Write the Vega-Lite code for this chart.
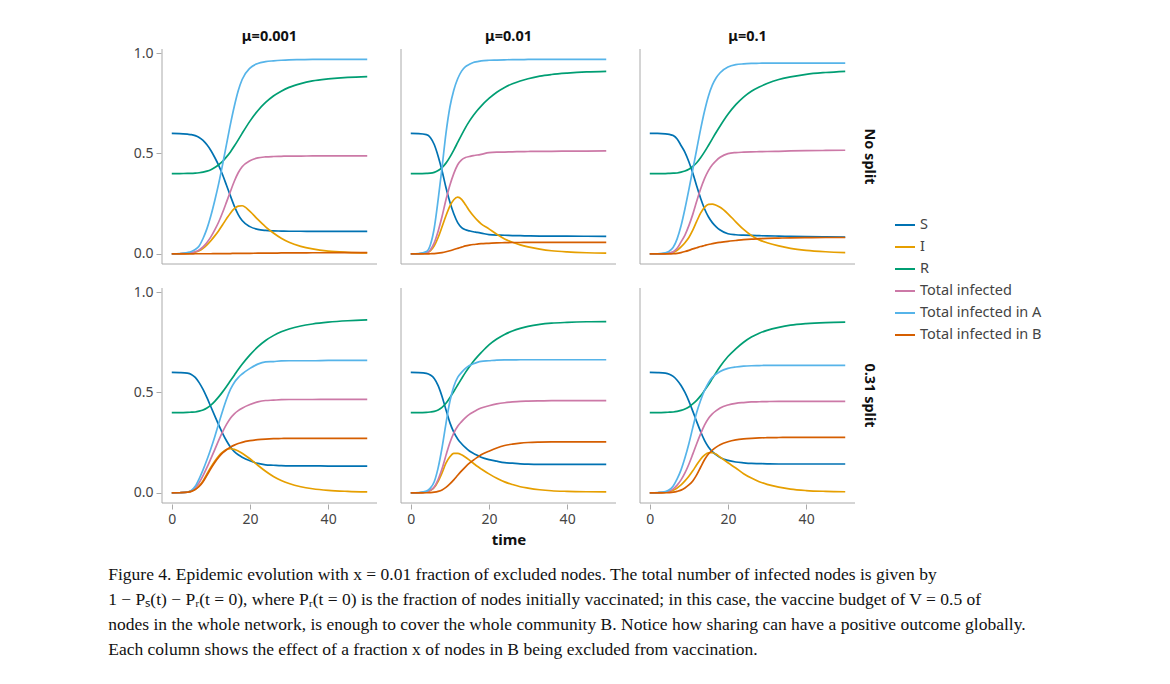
{
  "$schema": "https://vega.github.io/schema/vega-lite/v6.json",
  "padding": {"left": 108, "top": 28, "right": 5, "bottom": 5},
  "background": "white",
  "title": {
    "text": [
      "Figure 4. Epidemic evolution with x = 0.01 fraction of excluded nodes. The total number of infected nodes is given by",
      "1 − Pₛ(t) − Pᵣ(t = 0), where Pᵣ(t = 0) is the fraction of nodes initially vaccinated; in this case, the vaccine budget of V = 0.5 of",
      "nodes in the whole network, is enough to cover the whole community B. Notice how sharing can have a positive outcome globally.",
      "Each column shows the effect of a fraction x of nodes in B being excluded from vaccination."
    ],
    "orient": "bottom",
    "anchor": "start",
    "font": "Liberation Serif",
    "fontSize": 17.5,
    "fontWeight": "normal",
    "color": "#111",
    "lineHeight": 25,
    "offset": 18,
    "dx": -25
  },
  "data": {
    "values": [
      {"m":"μ=0.001","p":"No split","t":0,"S":0.600,"I":0.000,"R":0.400,"T":0.000,"A":0.000,"B":0.000},
      {"m":"μ=0.001","p":"No split","t":2,"S":0.599,"I":0.001,"R":0.400,"T":0.001,"A":0.002,"B":0.000},
      {"m":"μ=0.001","p":"No split","t":4,"S":0.596,"I":0.003,"R":0.401,"T":0.004,"A":0.007,"B":0.000},
      {"m":"μ=0.001","p":"No split","t":5,"S":0.594,"I":0.005,"R":0.401,"T":0.006,"A":0.012,"B":0.000},
      {"m":"μ=0.001","p":"No split","t":6,"S":0.589,"I":0.009,"R":0.402,"T":0.011,"A":0.022,"B":0.001},
      {"m":"μ=0.001","p":"No split","t":7,"S":0.580,"I":0.016,"R":0.404,"T":0.020,"A":0.040,"B":0.001},
      {"m":"μ=0.001","p":"No split","t":8,"S":0.565,"I":0.028,"R":0.407,"T":0.035,"A":0.077,"B":0.001},
      {"m":"μ=0.001","p":"No split","t":9,"S":0.543,"I":0.045,"R":0.412,"T":0.057,"A":0.126,"B":0.001},
      {"m":"μ=0.001","p":"No split","t":10,"S":0.515,"I":0.066,"R":0.419,"T":0.085,"A":0.190,"B":0.001},
      {"m":"μ=0.001","p":"No split","t":11,"S":0.480,"I":0.090,"R":0.430,"T":0.120,"A":0.266,"B":0.002},
      {"m":"μ=0.001","p":"No split","t":12,"S":0.441,"I":0.116,"R":0.444,"T":0.159,"A":0.350,"B":0.002},
      {"m":"μ=0.001","p":"No split","t":13,"S":0.394,"I":0.145,"R":0.461,"T":0.206,"A":0.445,"B":0.002},
      {"m":"μ=0.001","p":"No split","t":14,"S":0.342,"I":0.175,"R":0.483,"T":0.258,"A":0.545,"B":0.002},
      {"m":"μ=0.001","p":"No split","t":15,"S":0.289,"I":0.203,"R":0.508,"T":0.311,"A":0.645,"B":0.002},
      {"m":"μ=0.001","p":"No split","t":16,"S":0.238,"I":0.225,"R":0.537,"T":0.362,"A":0.735,"B":0.003},
      {"m":"μ=0.001","p":"No split","t":17,"S":0.196,"I":0.238,"R":0.568,"T":0.404,"A":0.812,"B":0.003},
      {"m":"μ=0.001","p":"No split","t":18,"S":0.166,"I":0.240,"R":0.600,"T":0.434,"A":0.868,"B":0.003},
      {"m":"μ=0.001","p":"No split","t":20,"S":0.136,"I":0.212,"R":0.661,"T":0.464,"A":0.925,"B":0.003},
      {"m":"μ=0.001","p":"No split","t":22,"S":0.122,"I":0.172,"R":0.713,"T":0.478,"A":0.948,"B":0.004},
      {"m":"μ=0.001","p":"No split","t":24,"S":0.117,"I":0.135,"R":0.754,"T":0.483,"A":0.957,"B":0.004},
      {"m":"μ=0.001","p":"No split","t":26,"S":0.115,"I":0.104,"R":0.786,"T":0.485,"A":0.961,"B":0.004},
      {"m":"μ=0.001","p":"No split","t":28,"S":0.114,"I":0.078,"R":0.810,"T":0.486,"A":0.964,"B":0.005},
      {"m":"μ=0.001","p":"No split","t":30,"S":0.113,"I":0.058,"R":0.829,"T":0.487,"A":0.966,"B":0.005},
      {"m":"μ=0.001","p":"No split","t":33,"S":0.113,"I":0.038,"R":0.848,"T":0.487,"A":0.967,"B":0.005},
      {"m":"μ=0.001","p":"No split","t":36,"S":0.112,"I":0.025,"R":0.861,"T":0.488,"A":0.968,"B":0.006},
      {"m":"μ=0.001","p":"No split","t":40,"S":0.112,"I":0.014,"R":0.871,"T":0.488,"A":0.968,"B":0.006},
      {"m":"μ=0.001","p":"No split","t":45,"S":0.112,"I":0.008,"R":0.879,"T":0.488,"A":0.968,"B":0.007},
      {"m":"μ=0.001","p":"No split","t":50,"S":0.112,"I":0.005,"R":0.883,"T":0.488,"A":0.968,"B":0.007},

      {"m":"μ=0.01","p":"No split","t":0,"S":0.600,"I":0.000,"R":0.400,"T":0.000,"A":0.000,"B":0.000},
      {"m":"μ=0.01","p":"No split","t":2,"S":0.599,"I":0.001,"R":0.400,"T":0.001,"A":0.002,"B":0.000},
      {"m":"μ=0.01","p":"No split","t":4,"S":0.594,"I":0.005,"R":0.401,"T":0.006,"A":0.012,"B":0.000},
      {"m":"μ=0.01","p":"No split","t":5,"S":0.580,"I":0.015,"R":0.402,"T":0.020,"A":0.045,"B":0.001},
      {"m":"μ=0.01","p":"No split","t":6,"S":0.5445,"I":0.040,"R":0.406,"T":0.0555,"A":0.128,"B":0.002},
      {"m":"μ=0.01","p":"No split","t":7,"S":0.4865,"I":0.082,"R":0.415,"T":0.1135,"A":0.270,"B":0.004},
      {"m":"μ=0.01","p":"No split","t":8,"S":0.414,"I":0.135,"R":0.430,"T":0.186,"A":0.430,"B":0.007},
      {"m":"μ=0.01","p":"No split","t":9,"S":0.3305,"I":0.190,"R":0.452,"T":0.2695,"A":0.600,"B":0.011},
      {"m":"μ=0.01","p":"No split","t":10,"S":0.258,"I":0.238,"R":0.482,"T":0.342,"A":0.730,"B":0.016},
      {"m":"μ=0.01","p":"No split","t":11,"S":0.200,"I":0.270,"R":0.517,"T":0.400,"A":0.815,"B":0.022},
      {"m":"μ=0.01","p":"No split","t":12,"S":0.156,"I":0.283,"R":0.555,"T":0.444,"A":0.872,"B":0.028},
      {"m":"μ=0.01","p":"No split","t":13,"S":0.1315,"I":0.272,"R":0.593,"T":0.4685,"A":0.910,"B":0.034},
      {"m":"μ=0.01","p":"No split","t":14,"S":0.120,"I":0.245,"R":0.629,"T":0.480,"A":0.932,"B":0.040},
      {"m":"μ=0.01","p":"No split","t":15,"S":0.115,"I":0.215,"R":0.661,"T":0.485,"A":0.944,"B":0.044},
      {"m":"μ=0.01","p":"No split","t":16,"S":0.1105,"I":0.190,"R":0.689,"T":0.4895,"A":0.953,"B":0.047},
      {"m":"μ=0.01","p":"No split","t":17,"S":0.1075,"I":0.168,"R":0.714,"T":0.4925,"A":0.957,"B":0.049},
      {"m":"μ=0.01","p":"No split","t":18,"S":0.104,"I":0.150,"R":0.736,"T":0.496,"A":0.961,"B":0.051},
      {"m":"μ=0.01","p":"No split","t":20,"S":0.096,"I":0.125,"R":0.774,"T":0.504,"A":0.964,"B":0.053},
      {"m":"μ=0.01","p":"No split","t":22,"S":0.0935,"I":0.098,"R":0.805,"T":0.5065,"A":0.965,"B":0.055},
      {"m":"μ=0.01","p":"No split","t":24,"S":0.093,"I":0.075,"R":0.829,"T":0.507,"A":0.966,"B":0.056},
      {"m":"μ=0.01","p":"No split","t":26,"S":0.0915,"I":0.058,"R":0.847,"T":0.5085,"A":0.967,"B":0.057},
      {"m":"μ=0.01","p":"No split","t":28,"S":0.091,"I":0.045,"R":0.861,"T":0.509,"A":0.967,"B":0.057},
      {"m":"μ=0.01","p":"No split","t":30,"S":0.090,"I":0.035,"R":0.872,"T":0.510,"A":0.968,"B":0.058},
      {"m":"μ=0.01","p":"No split","t":33,"S":0.089,"I":0.024,"R":0.885,"T":0.511,"A":0.968,"B":0.058},
      {"m":"μ=0.01","p":"No split","t":36,"S":0.089,"I":0.016,"R":0.893,"T":0.511,"A":0.968,"B":0.058},
      {"m":"μ=0.01","p":"No split","t":40,"S":0.0885,"I":0.010,"R":0.900,"T":0.5115,"A":0.968,"B":0.058},
      {"m":"μ=0.01","p":"No split","t":45,"S":0.088,"I":0.006,"R":0.906,"T":0.512,"A":0.968,"B":0.058},
      {"m":"μ=0.01","p":"No split","t":50,"S":0.087,"I":0.004,"R":0.909,"T":0.513,"A":0.968,"B":0.058},

      {"m":"μ=0.1","p":"No split","t":0,"S":0.600,"I":0.000,"R":0.400,"T":0.000,"A":0.000,"B":0.000},
      {"m":"μ=0.1","p":"No split","t":2,"S":0.600,"I":0.000,"R":0.400,"T":0.000,"A":0.001,"B":0.000},
      {"m":"μ=0.1","p":"No split","t":4,"S":0.598,"I":0.002,"R":0.400,"T":0.002,"A":0.006,"B":0.000},
      {"m":"μ=0.1","p":"No split","t":5,"S":0.595,"I":0.004,"R":0.401,"T":0.005,"A":0.014,"B":0.000},
      {"m":"μ=0.1","p":"No split","t":6,"S":0.589,"I":0.008,"R":0.402,"T":0.011,"A":0.033,"B":0.001},
      {"m":"μ=0.1","p":"No split","t":7,"S":0.572,"I":0.018,"R":0.403,"T":0.028,"A":0.075,"B":0.003},
      {"m":"μ=0.1","p":"No split","t":8,"S":0.540,"I":0.035,"R":0.407,"T":0.060,"A":0.140,"B":0.007},
      {"m":"μ=0.1","p":"No split","t":9,"S":0.506,"I":0.056,"R":0.413,"T":0.094,"A":0.225,"B":0.012},
      {"m":"μ=0.1","p":"No split","t":10,"S":0.459,"I":0.082,"R":0.422,"T":0.141,"A":0.320,"B":0.018},
      {"m":"μ=0.1","p":"No split","t":11,"S":0.403,"I":0.118,"R":0.436,"T":0.197,"A":0.420,"B":0.025},
      {"m":"μ=0.1","p":"No split","t":12,"S":0.338,"I":0.162,"R":0.454,"T":0.262,"A":0.520,"B":0.031},
      {"m":"μ=0.1","p":"No split","t":13,"S":0.277,"I":0.203,"R":0.479,"T":0.323,"A":0.620,"B":0.037},
      {"m":"μ=0.1","p":"No split","t":14,"S":0.225,"I":0.232,"R":0.508,"T":0.375,"A":0.710,"B":0.042},
      {"m":"μ=0.1","p":"No split","t":15,"S":0.185,"I":0.247,"R":0.540,"T":0.415,"A":0.785,"B":0.047},
      {"m":"μ=0.1","p":"No split","t":16,"S":0.156,"I":0.248,"R":0.573,"T":0.444,"A":0.840,"B":0.051},
      {"m":"μ=0.1","p":"No split","t":17,"S":0.135,"I":0.242,"R":0.606,"T":0.465,"A":0.877,"B":0.055},
      {"m":"μ=0.1","p":"No split","t":18,"S":0.119,"I":0.232,"R":0.637,"T":0.481,"A":0.902,"B":0.058},
      {"m":"μ=0.1","p":"No split","t":20,"S":0.1005,"I":0.200,"R":0.695,"T":0.4995,"A":0.930,"B":0.063},
      {"m":"μ=0.1","p":"No split","t":22,"S":0.0955,"I":0.160,"R":0.743,"T":0.5045,"A":0.942,"B":0.067},
      {"m":"μ=0.1","p":"No split","t":24,"S":0.0935,"I":0.122,"R":0.781,"T":0.5065,"A":0.946,"B":0.071},
      {"m":"μ=0.1","p":"No split","t":26,"S":0.092,"I":0.092,"R":0.810,"T":0.508,"A":0.948,"B":0.074},
      {"m":"μ=0.1","p":"No split","t":28,"S":0.091,"I":0.070,"R":0.831,"T":0.509,"A":0.949,"B":0.076},
      {"m":"μ=0.1","p":"No split","t":30,"S":0.090,"I":0.056,"R":0.848,"T":0.510,"A":0.950,"B":0.078},
      {"m":"μ=0.1","p":"No split","t":33,"S":0.089,"I":0.040,"R":0.868,"T":0.511,"A":0.950,"B":0.079},
      {"m":"μ=0.1","p":"No split","t":36,"S":0.0875,"I":0.028,"R":0.881,"T":0.5125,"A":0.950,"B":0.080},
      {"m":"μ=0.1","p":"No split","t":40,"S":0.086,"I":0.018,"R":0.894,"T":0.514,"A":0.950,"B":0.081},
      {"m":"μ=0.1","p":"No split","t":45,"S":0.085,"I":0.011,"R":0.903,"T":0.515,"A":0.950,"B":0.082},
      {"m":"μ=0.1","p":"No split","t":50,"S":0.084,"I":0.007,"R":0.909,"T":0.516,"A":0.950,"B":0.082},

      {"m":"μ=0.001","p":"0.31 split","t":0,"S":0.600,"I":0.000,"R":0.400,"T":0.000,"A":0.000,"B":0.000},
      {"m":"μ=0.001","p":"0.31 split","t":2,"S":0.599,"I":0.001,"R":0.400,"T":0.001,"A":0.001,"B":0.001},
      {"m":"μ=0.001","p":"0.31 split","t":4,"S":0.596,"I":0.004,"R":0.401,"T":0.004,"A":0.004,"B":0.004},
      {"m":"μ=0.001","p":"0.31 split","t":5,"S":0.590,"I":0.009,"R":0.402,"T":0.010,"A":0.012,"B":0.008},
      {"m":"μ=0.001","p":"0.31 split","t":6,"S":0.575,"I":0.018,"R":0.403,"T":0.025,"A":0.033,"B":0.017},
      {"m":"μ=0.001","p":"0.31 split","t":7,"S":0.549,"I":0.035,"R":0.407,"T":0.051,"A":0.070,"B":0.032},
      {"m":"μ=0.001","p":"0.31 split","t":8,"S":0.515,"I":0.060,"R":0.413,"T":0.086,"A":0.115,"B":0.056},
      {"m":"μ=0.001","p":"0.31 split","t":9,"S":0.474,"I":0.095,"R":0.423,"T":0.127,"A":0.165,"B":0.088},
      {"m":"μ=0.001","p":"0.31 split","t":10,"S":0.429,"I":0.128,"R":0.437,"T":0.171,"A":0.220,"B":0.122},
      {"m":"μ=0.001","p":"0.31 split","t":11,"S":0.384,"I":0.158,"R":0.456,"T":0.216,"A":0.280,"B":0.152},
      {"m":"μ=0.001","p":"0.31 split","t":12,"S":0.339,"I":0.184,"R":0.478,"T":0.262,"A":0.345,"B":0.178},
      {"m":"μ=0.001","p":"0.31 split","t":13,"S":0.297,"I":0.203,"R":0.503,"T":0.304,"A":0.408,"B":0.199},
      {"m":"μ=0.001","p":"0.31 split","t":14,"S":0.260,"I":0.216,"R":0.530,"T":0.341,"A":0.466,"B":0.215},
      {"m":"μ=0.001","p":"0.31 split","t":15,"S":0.229,"I":0.220,"R":0.558,"T":0.372,"A":0.515,"B":0.228},
      {"m":"μ=0.001","p":"0.31 split","t":16,"S":0.206,"I":0.217,"R":0.586,"T":0.394,"A":0.550,"B":0.238},
      {"m":"μ=0.001","p":"0.31 split","t":17,"S":0.190,"I":0.209,"R":0.614,"T":0.410,"A":0.574,"B":0.246},
      {"m":"μ=0.001","p":"0.31 split","t":18,"S":0.178,"I":0.198,"R":0.640,"T":0.422,"A":0.592,"B":0.252},
      {"m":"μ=0.001","p":"0.31 split","t":20,"S":0.160,"I":0.170,"R":0.687,"T":0.440,"A":0.620,"B":0.260},
      {"m":"μ=0.001","p":"0.31 split","t":22,"S":0.147,"I":0.138,"R":0.727,"T":0.453,"A":0.641,"B":0.265},
      {"m":"μ=0.001","p":"0.31 split","t":24,"S":0.140,"I":0.108,"R":0.759,"T":0.460,"A":0.652,"B":0.268},
      {"m":"μ=0.001","p":"0.31 split","t":26,"S":0.138,"I":0.082,"R":0.783,"T":0.462,"A":0.654,"B":0.270},
      {"m":"μ=0.001","p":"0.31 split","t":28,"S":0.136,"I":0.062,"R":0.802,"T":0.464,"A":0.657,"B":0.271},
      {"m":"μ=0.001","p":"0.31 split","t":30,"S":0.135,"I":0.047,"R":0.816,"T":0.465,"A":0.658,"B":0.272},
      {"m":"μ=0.001","p":"0.31 split","t":33,"S":0.135,"I":0.031,"R":0.831,"T":0.465,"A":0.658,"B":0.272},
      {"m":"μ=0.001","p":"0.31 split","t":36,"S":0.135,"I":0.021,"R":0.841,"T":0.465,"A":0.658,"B":0.272},
      {"m":"μ=0.001","p":"0.31 split","t":40,"S":0.134,"I":0.013,"R":0.850,"T":0.466,"A":0.660,"B":0.272},
      {"m":"μ=0.001","p":"0.31 split","t":45,"S":0.134,"I":0.008,"R":0.857,"T":0.466,"A":0.660,"B":0.272},
      {"m":"μ=0.001","p":"0.31 split","t":50,"S":0.134,"I":0.005,"R":0.861,"T":0.466,"A":0.660,"B":0.272},

      {"m":"μ=0.01","p":"0.31 split","t":0,"S":0.600,"I":0.000,"R":0.400,"T":0.000,"A":0.000,"B":0.000},
      {"m":"μ=0.01","p":"0.31 split","t":2,"S":0.599,"I":0.001,"R":0.400,"T":0.001,"A":0.002,"B":0.000},
      {"m":"μ=0.01","p":"0.31 split","t":4,"S":0.595,"I":0.005,"R":0.401,"T":0.005,"A":0.009,"B":0.001},
      {"m":"μ=0.01","p":"0.31 split","t":5,"S":0.587,"I":0.012,"R":0.403,"T":0.013,"A":0.024,"B":0.002},
      {"m":"μ=0.01","p":"0.31 split","t":6,"S":0.570,"I":0.027,"R":0.406,"T":0.030,"A":0.056,"B":0.004},
      {"m":"μ=0.01","p":"0.31 split","t":7,"S":0.534,"I":0.058,"R":0.413,"T":0.067,"A":0.125,"B":0.008},
      {"m":"μ=0.01","p":"0.31 split","t":8,"S":0.480,"I":0.100,"R":0.426,"T":0.120,"A":0.225,"B":0.015},
      {"m":"μ=0.01","p":"0.31 split","t":9,"S":0.414,"I":0.148,"R":0.446,"T":0.187,"A":0.345,"B":0.028},
      {"m":"μ=0.01","p":"0.31 split","t":10,"S":0.350,"I":0.180,"R":0.474,"T":0.250,"A":0.455,"B":0.045},
      {"m":"μ=0.01","p":"0.31 split","t":11,"S":0.303,"I":0.197,"R":0.505,"T":0.298,"A":0.530,"B":0.065},
      {"m":"μ=0.01","p":"0.31 split","t":12,"S":0.269,"I":0.197,"R":0.537,"T":0.332,"A":0.575,"B":0.088},
      {"m":"μ=0.01","p":"0.31 split","t":13,"S":0.245,"I":0.190,"R":0.569,"T":0.355,"A":0.600,"B":0.110},
      {"m":"μ=0.01","p":"0.31 split","t":14,"S":0.225,"I":0.178,"R":0.600,"T":0.375,"A":0.620,"B":0.130},
      {"m":"μ=0.01","p":"0.31 split","t":15,"S":0.209,"I":0.163,"R":0.628,"T":0.391,"A":0.634,"B":0.148},
      {"m":"μ=0.01","p":"0.31 split","t":16,"S":0.197,"I":0.148,"R":0.654,"T":0.403,"A":0.643,"B":0.163},
      {"m":"μ=0.01","p":"0.31 split","t":17,"S":0.187,"I":0.133,"R":0.677,"T":0.414,"A":0.650,"B":0.177},
      {"m":"μ=0.01","p":"0.31 split","t":18,"S":0.178,"I":0.120,"R":0.698,"T":0.423,"A":0.655,"B":0.190},
      {"m":"μ=0.01","p":"0.31 split","t":20,"S":0.166,"I":0.095,"R":0.737,"T":0.434,"A":0.658,"B":0.208},
      {"m":"μ=0.01","p":"0.31 split","t":22,"S":0.158,"I":0.073,"R":0.766,"T":0.443,"A":0.661,"B":0.224},
      {"m":"μ=0.01","p":"0.31 split","t":24,"S":0.151,"I":0.055,"R":0.789,"T":0.449,"A":0.662,"B":0.236},
      {"m":"μ=0.01","p":"0.31 split","t":26,"S":0.148,"I":0.042,"R":0.806,"T":0.453,"A":0.662,"B":0.243},
      {"m":"μ=0.01","p":"0.31 split","t":28,"S":0.145,"I":0.031,"R":0.819,"T":0.456,"A":0.663,"B":0.248},
      {"m":"μ=0.01","p":"0.31 split","t":30,"S":0.143,"I":0.024,"R":0.829,"T":0.457,"A":0.663,"B":0.251},
      {"m":"μ=0.01","p":"0.31 split","t":33,"S":0.142,"I":0.016,"R":0.839,"T":0.458,"A":0.663,"B":0.253},
      {"m":"μ=0.01","p":"0.31 split","t":36,"S":0.142,"I":0.011,"R":0.845,"T":0.459,"A":0.663,"B":0.254},
      {"m":"μ=0.01","p":"0.31 split","t":40,"S":0.142,"I":0.008,"R":0.849,"T":0.459,"A":0.663,"B":0.254},
      {"m":"μ=0.01","p":"0.31 split","t":45,"S":0.142,"I":0.006,"R":0.852,"T":0.459,"A":0.663,"B":0.254},
      {"m":"μ=0.01","p":"0.31 split","t":50,"S":0.142,"I":0.005,"R":0.853,"T":0.459,"A":0.663,"B":0.254},

      {"m":"μ=0.1","p":"0.31 split","t":0,"S":0.600,"I":0.000,"R":0.400,"T":0.000,"A":0.000,"B":0.000},
      {"m":"μ=0.1","p":"0.31 split","t":2,"S":0.599,"I":0.001,"R":0.400,"T":0.001,"A":0.002,"B":0.000},
      {"m":"μ=0.1","p":"0.31 split","t":4,"S":0.596,"I":0.003,"R":0.401,"T":0.004,"A":0.007,"B":0.001},
      {"m":"μ=0.1","p":"0.31 split","t":5,"S":0.591,"I":0.007,"R":0.402,"T":0.009,"A":0.016,"B":0.002},
      {"m":"μ=0.1","p":"0.31 split","t":6,"S":0.580,"I":0.014,"R":0.403,"T":0.020,"A":0.035,"B":0.004},
      {"m":"μ=0.1","p":"0.31 split","t":7,"S":0.561,"I":0.025,"R":0.406,"T":0.039,"A":0.070,"B":0.008},
      {"m":"μ=0.1","p":"0.31 split","t":8,"S":0.535,"I":0.040,"R":0.411,"T":0.065,"A":0.115,"B":0.014},
      {"m":"μ=0.1","p":"0.31 split","t":9,"S":0.500,"I":0.060,"R":0.418,"T":0.100,"A":0.175,"B":0.025},
      {"m":"μ=0.1","p":"0.31 split","t":10,"S":0.457,"I":0.083,"R":0.428,"T":0.143,"A":0.245,"B":0.040},
      {"m":"μ=0.1","p":"0.31 split","t":11,"S":0.407,"I":0.110,"R":0.443,"T":0.193,"A":0.325,"B":0.060},
      {"m":"μ=0.1","p":"0.31 split","t":12,"S":0.355,"I":0.140,"R":0.461,"T":0.245,"A":0.400,"B":0.090},
      {"m":"μ=0.1","p":"0.31 split","t":13,"S":0.306,"I":0.168,"R":0.483,"T":0.294,"A":0.460,"B":0.128},
      {"m":"μ=0.1","p":"0.31 split","t":14,"S":0.262,"I":0.188,"R":0.510,"T":0.338,"A":0.510,"B":0.165},
      {"m":"μ=0.1","p":"0.31 split","t":15,"S":0.229,"I":0.200,"R":0.538,"T":0.371,"A":0.548,"B":0.194},
      {"m":"μ=0.1","p":"0.31 split","t":16,"S":0.206,"I":0.200,"R":0.569,"T":0.394,"A":0.575,"B":0.213},
      {"m":"μ=0.1","p":"0.31 split","t":17,"S":0.190,"I":0.193,"R":0.600,"T":0.410,"A":0.592,"B":0.228},
      {"m":"μ=0.1","p":"0.31 split","t":18,"S":0.177,"I":0.178,"R":0.629,"T":0.423,"A":0.605,"B":0.240},
      {"m":"μ=0.1","p":"0.31 split","t":20,"S":0.162,"I":0.150,"R":0.679,"T":0.438,"A":0.620,"B":0.255},
      {"m":"μ=0.1","p":"0.31 split","t":22,"S":0.154,"I":0.124,"R":0.717,"T":0.446,"A":0.627,"B":0.264},
      {"m":"μ=0.1","p":"0.31 split","t":24,"S":0.150,"I":0.096,"R":0.750,"T":0.450,"A":0.631,"B":0.269},
      {"m":"μ=0.1","p":"0.31 split","t":26,"S":0.147,"I":0.074,"R":0.776,"T":0.453,"A":0.633,"B":0.272},
      {"m":"μ=0.1","p":"0.31 split","t":28,"S":0.146,"I":0.056,"R":0.795,"T":0.454,"A":0.634,"B":0.274},
      {"m":"μ=0.1","p":"0.31 split","t":30,"S":0.145,"I":0.043,"R":0.809,"T":0.455,"A":0.635,"B":0.275},
      {"m":"μ=0.1","p":"0.31 split","t":33,"S":0.144,"I":0.029,"R":0.824,"T":0.456,"A":0.635,"B":0.276},
      {"m":"μ=0.1","p":"0.31 split","t":36,"S":0.144,"I":0.019,"R":0.835,"T":0.456,"A":0.635,"B":0.277},
      {"m":"μ=0.1","p":"0.31 split","t":40,"S":0.144,"I":0.012,"R":0.843,"T":0.456,"A":0.635,"B":0.277},
      {"m":"μ=0.1","p":"0.31 split","t":45,"S":0.144,"I":0.008,"R":0.848,"T":0.456,"A":0.635,"B":0.277},
      {"m":"μ=0.1","p":"0.31 split","t":50,"S":0.144,"I":0.006,"R":0.850,"T":0.456,"A":0.635,"B":0.277}
    ]
  },
  "facet": {
    "column": {
      "field": "m", "type": "nominal", "sort": ["μ=0.001", "μ=0.01", "μ=0.1"],
      "header": {
        "title": "time", "titleOrient": "bottom", "labelOrient": "top",
        "titleFontWeight": "bold", "titleFontSize": 15, "titleFont": "Noto Sans", "titleColor": "#111", "titlePadding": -3,
        "labelFontWeight": "bold", "labelFontSize": 14.5, "labelFont": "Noto Sans", "labelColor": "#111", "labelPadding": 4
      }
    },
    "row": {
      "field": "p", "type": "nominal", "sort": ["No split", "0.31 split"],
      "header": {"title": null, "labelOrient": "right", "labelAngle": 90, "labelFontWeight": "bold", "labelFontSize": 14.5, "labelFont": "Noto Sans", "labelColor": "#111", "labelPadding": 5}
    }
  },
  "spacing": {"row": 22, "column": 22},
  "spec": {
    "width": 215,
    "height": 215,
    "layer": [
      {
        "transform": [{"aggregate": [{"op": "count", "as": "n"}], "groupby": ["m", "p"]}],
        "mark": {"type": "rule", "color": "#aaaaaa", "strokeWidth": 1},
        "encoding": {"x": {"datum": -2.5, "type": "quantitative"}}
      },
      {
        "transform": [{"aggregate": [{"op": "count", "as": "n"}], "groupby": ["m", "p"]}],
        "mark": {"type": "rule", "color": "#aaaaaa", "strokeWidth": 1},
        "encoding": {"y": {"datum": -0.05, "type": "quantitative"}}
      },
      {
        "transform": [{"fold": ["S", "I", "R", "T", "A", "B"], "as": ["k", "v"]}],
        "mark": {"type": "line", "strokeWidth": 1.7, "interpolate": "monotone"},
        "encoding": {
          "x": {"field": "t", "type": "quantitative", "scale": {"domain": [-2.5, 52.5], "nice": false, "zero": false},
                "axis": {"values": [0, 20, 40], "title": null}},
          "y": {"field": "v", "type": "quantitative", "scale": {"domain": [-0.05, 1.02], "nice": false, "zero": false},
                "axis": {"values": [0, 0.5, 1], "format": ".1f", "title": null}},
          "color": {
            "field": "k", "type": "nominal",
            "scale": {"domain": ["S", "I", "R", "T", "A", "B"], "range": ["#0072B2", "#E69F00", "#009E73", "#CC79A7", "#56B4E9", "#D55E00"]},
            "legend": {
              "title": null, "orient": "none", "legendX": 732, "legendY": 165,
              "symbolType": "stroke", "symbolSize": 400, "symbolStrokeWidth": 2,
              "labelFontSize": 14.5, "labelFont": "Noto Sans", "labelColor": "#444", "rowPadding": 4,
              "labelExpr": "datum.label == 'T' ? 'Total infected' : datum.label == 'A' ? 'Total infected in A' : datum.label == 'B' ? 'Total infected in B' : datum.label"
            }
          }
        }
      }
    ]
  },
  "config": {
    "view": {"stroke": null},
    "font": "Noto Sans",
    "axis": {
      "domain": false, "grid": false, "tickColor": "#aaaaaa", "tickSize": 5,
      "labelColor": "#444", "labelFontSize": 14, "labelFont": "Noto Sans", "labelPadding": 3
    }
  }
}
